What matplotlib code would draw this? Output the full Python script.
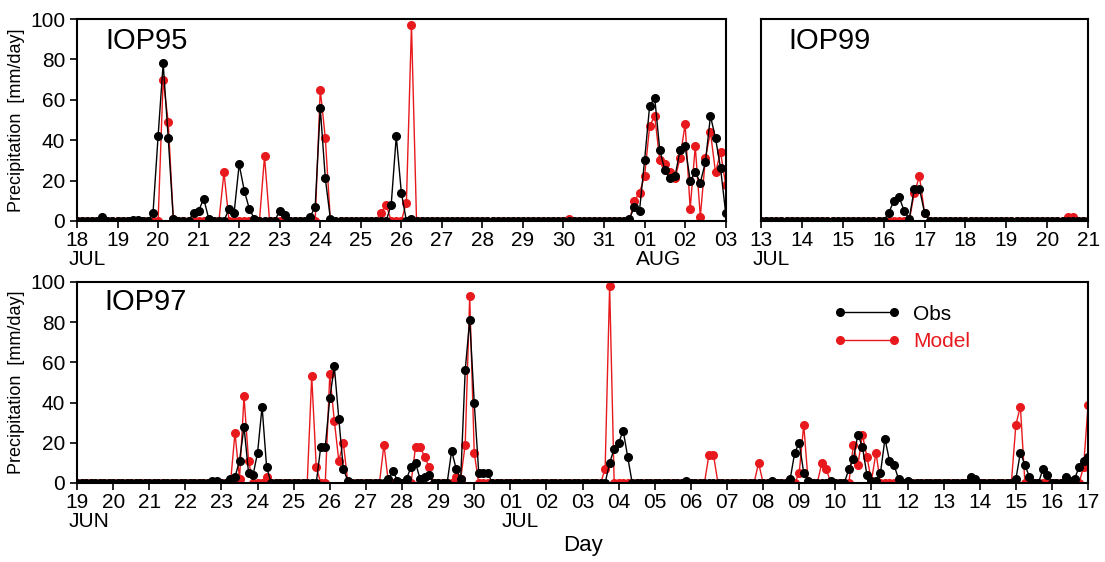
import numpy as np
import matplotlib
matplotlib.use("Agg")
import matplotlib.pyplot as plt

plt.rcParams['font.family'] = ['Liberation Sans', 'DejaVu Sans']

# 3-hourly precipitation (mm/day), one row of 8 values per day, last value = final tick
obs95 = [0, 0, 0, 0, 0, 2, 0, 0,
         0, 0, 0, 0.5, 0.5, 0, 0, 4,
         42, 78, 41, 1, 0, 0, 0, 4,
         5, 11, 1, 0, 0, 0, 6, 4,
         28, 15, 6, 1, 0, 0, 0, 0,
         5, 3, 0, 0, 0, 0, 2, 7,
         56, 21, 1, 0, 0, 0, 0, 0,
         0, 0, 0, 0, 0, 0, 8, 42,
         14, 0, 1, 0, 0, 0, 0, 0,
         0, 0, 0, 0, 0, 0, 0, 0,
         0, 0, 0, 0, 0, 0, 0, 0,
         0, 0, 0, 0, 0, 0, 0, 0,
         0, 0, 0, 0, 0, 0, 0, 0,
         0, 0, 0, 0, 0, 1, 7, 5,
         30, 57, 61, 35, 25, 21, 22, 35,
         37, 20, 24, 19, 29, 52, 41, 26,
         4]
model95 = [0, 0, 0, 0, 0, 0, 0, 0,
           0, 0, 0, 0, 0, 0, 0, 0,
           0, 70, 49, 1, 0, 0, 0, 0,
           0, 0, 0, 0, 0, 24, 0, 0,
           0, 0, 0, 0, 0, 32, 0, 0,
           0, 0, 0, 0, 0, 0, 0, 0,
           65, 41, 0, 0, 0, 0, 0, 0,
           0, 0, 0, 0, 4, 8, 0, 0,
           0, 9, 97, 0, 0, 0, 0, 0,
           0, 0, 0, 0, 0, 0, 0, 0,
           0, 0, 0, 0, 0, 0, 0, 0,
           0, 0, 0, 0, 0, 0, 0, 0,
           0, 1, 0, 0, 0, 0, 0, 0,
           0, 0, 0, 0, 0, 0, 10, 14,
           22, 47, 52, 30, 28, 24, 21, 31,
           48, 6, 37, 2, 31, 44, 24, 34,
           18]

obs99 = [0, 0, 0, 0, 0, 0, 0, 0,
         0, 0, 0, 0, 0, 0, 0, 0,
         0, 0, 0, 0, 0, 0, 0, 0,
         0, 4, 10, 12, 5, 1, 16, 16,
         4, 0, 0, 0, 0, 0, 0, 0,
         0, 0, 0, 0, 0, 0, 0, 0,
         0, 0, 0, 0, 0, 0, 0, 0,
         0, 0, 0, 0, 0, 0, 0, 0,
         0]
model99 = [0, 0, 0, 0, 0, 0, 0, 0,
           0, 0, 0, 0, 0, 0, 0, 0,
           0, 0, 0, 0, 0, 0, 0, 0,
           0, 0, 0, 0, 0, 0, 14, 22,
           4, 0, 0, 0, 0, 0, 0, 0,
           0, 0, 0, 0, 0, 0, 0, 0,
           0, 0, 0, 0, 0, 0, 0, 0,
           0, 0, 0, 0, 2, 2, 0, 0,
           0]

obs97 = [0, 0, 0, 0, 0, 0, 0, 0,
         0, 0, 0, 0, 0, 0, 0, 0,
         0, 0, 0, 0, 0, 0, 0, 0,
         0, 0, 0, 0, 0, 0, 1, 1,
         0, 0, 2, 3, 11, 28, 5, 4,
         15, 38, 8, 0, 0, 0, 0, 0,
         0, 0, 0, 0, 0, 0, 18, 18,
         42, 58, 32, 7, 1, 0, 0, 0,
         0, 0, 0, 0, 0, 2, 6, 1,
         0, 2, 8, 10, 2, 3, 4, 0,
         0, 0, 0, 16, 7, 2, 56, 81,
         40, 5, 5, 5, 0, 0, 0, 0,
         0, 0, 0, 0, 0, 0, 0, 0,
         0, 0, 0, 0, 0, 0, 0, 0,
         0, 0, 0, 0, 0, 0, 10, 17,
         20, 26, 13, 0, 0, 0, 0, 0,
         0, 0, 0, 0, 0, 0, 0, 1,
         0, 0, 0, 0, 0, 0, 0, 0,
         0, 0, 0, 0, 0, 0, 0, 0,
         0, 0, 1, 0, 0, 0, 2, 15,
         20, 5, 1, 0, 0, 0, 0, 1,
         0, 0, 0, 7, 12, 24, 18, 4,
         1, 1, 5, 22, 11, 9, 2, 0,
         1, 0, 0, 0, 0, 0, 0, 0,
         0, 0, 0, 0, 0, 0, 3, 2,
         0, 0, 0, 0, 0, 0, 0, 0,
         2, 15, 9, 3, 0, 0, 7, 4,
         0, 0, 0, 3, 1, 2, 8, 11,
         13]
model97 = [0, 0, 0, 0, 0, 0, 0, 0,
           0, 0, 0, 0, 0, 0, 0, 0,
           0, 0, 0, 0, 0, 0, 0, 0,
           0, 0, 0, 0, 0, 0, 0, 0,
           0, 0, 0, 25, 2, 43, 11, 0,
           0, 0, 3, 0, 0, 0, 0, 0,
           0, 0, 0, 0, 53, 8, 0, 0,
           54, 31, 11, 20, 0, 0, 0, 0,
           0, 0, 0, 0, 19, 0, 0, 0,
           0, 0, 0, 18, 18, 13, 8, 0,
           0, 0, 0, 0, 3, 2, 19, 93,
           15, 0, 0, 0, 0, 0, 0, 0,
           0, 0, 0, 0, 0, 0, 0, 0,
           0, 0, 0, 0, 0, 0, 0, 0,
           0, 0, 0, 0, 0, 7, 98, 0,
           0, 0, 0, 0, 0, 0, 0, 0,
           0, 0, 0, 0, 0, 0, 0, 0,
           0, 0, 0, 0, 14, 14, 0, 0,
           0, 0, 0, 0, 0, 0, 0, 10,
           0, 0, 0, 0, 0, 0, 0, 0,
           5, 29, 0, 0, 0, 10, 7, 0,
           0, 0, 0, 0, 19, 9, 24, 13,
           1, 15, 0, 0, 0, 0, 0, 0,
           0, 0, 0, 0, 0, 0, 0, 0,
           0, 0, 0, 0, 0, 0, 0, 0,
           0, 0, 0, 0, 0, 0, 0, 0,
           29, 38, 0, 0, 0, 0, 0, 0,
           0, 0, 0, 0, 0, 0, 0, 8,
           39]

days95 = [str(d) for d in range(18, 32)] + ['01', '02', '03']
months95 = {0: 'JUL', 14: 'AUG'}
days99 = [str(d) for d in range(13, 22)]
months99 = {0: 'JUL'}
days97 = [str(d) for d in range(19, 31)] + ['%02d' % d for d in range(1, 18)]
months97 = {0: 'JUN', 12: 'JUL'}

fig = plt.figure(figsize=(11.05, 5.62), dpi=100)
ax95 = fig.add_axes([0.0697, 0.607, 0.587, 0.359])
ax99 = fig.add_axes([0.6887, 0.607, 0.296, 0.359])
ax97 = fig.add_axes([0.0697, 0.1406, 0.915, 0.358])


def draw(ax, obs, model, days, months, title, ylab=True):
    x = np.arange(len(obs)) / 8.0
    ax.plot(x, model, color='#e8191c', lw=1, marker='o', ms=5.5, label='Model', zorder=2)
    ax.plot(x, obs, color='black', lw=1, marker='o', ms=5.5, label='Obs', zorder=3)
    ax.set_xlim(0, len(days) - 1)
    ax.set_ylim(0, 100)
    ax.set_xticks(range(len(days)))
    ax.set_xticklabels(days, fontsize=15)
    ax.tick_params(axis='x', direction='out', length=5, width=1.2, pad=2)
    if ylab:
        ax.set_yticks(range(0, 101, 20))
        ax.tick_params(axis='y', direction='out', length=5, width=1.2, labelsize=15)
        ax.set_ylabel('Precipitation  [mm/day]', fontsize=13, labelpad=4)
    else:
        ax.set_yticks([])
    for s in ax.spines.values():
        s.set_linewidth(1.5)
    for i, m in months.items():
        ax.annotate(m, xy=(i, 0), xycoords=('data', 'axes fraction'),
                    xytext=(-6, -21), textcoords='offset points',
                    ha='left', va='top', fontsize=15)
    ax.text(0.043 if ylab else 0.083, 0.89, title, transform=ax.transAxes,
            fontsize=21, va='center', ha='left')


draw(ax95, obs95, model95, days95, months95, 'IOP95')
draw(ax99, obs99, model99, days99, months99, 'IOP99', ylab=False)
draw(ax97, obs97, model97, days97, months97, 'IOP97')
ax97.texts[-1].set_position((0.027, 0.9))
ax97.set_xlabel('Day', fontsize=16, labelpad=17)

h, l = ax97.get_legend_handles_labels()
leg = ax97.legend(h[::-1], l[::-1], loc='upper left', bbox_to_anchor=(0.73, 0.98),
                  frameon=False, numpoints=2, handlelength=3.2, fontsize=15,
                  labelcolor='linecolor', handletextpad=0.6, labelspacing=0.4)

fig.savefig('out.png', dpi=100)
